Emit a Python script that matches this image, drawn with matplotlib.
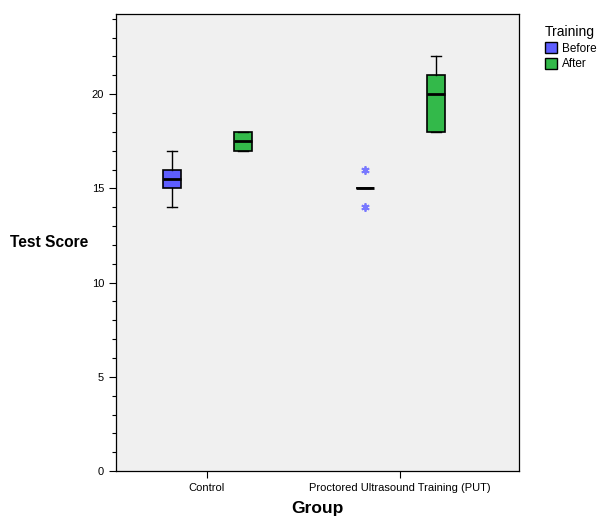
import numpy as np
import matplotlib
matplotlib.use("Agg")
import matplotlib.pyplot as plt
from matplotlib.patches import Patch

plt.rcParams["font.family"] = ["Liberation Sans", "DejaVu Sans"]

# data
groups = ["Control", "Proctored Ultrasound Training (PUT)"]
series = ["Before", "After"]
colors = {"Before": "#5e5eff", "After": "#33b94a"}
# per group, per series: (whislo, q1, med, q3, whishi, fliers)
control_before = (14, 15, 15.5, 16, 17, [])
control_after = (17, 17, 17.5, 18, 18, [])
put_before = (15, 15, 15, 15, 15, [16, 14])
put_after = (18, 18, 20, 21, 22, [])
stats_by_series = {
    "Before": [control_before, put_before],
    "After": [control_after, put_after],
}

fig = plt.figure(figsize=(6, 5.2), dpi=100)
ax = fig.add_axes([0.193, 0.094, 0.672, 0.879])
ax.set_facecolor("#f0f0f0")

offset = {"Before": -0.18, "After": 0.187}
for s in series:
    stats = []
    for v in stats_by_series[s]:
        lo, q1, med, q3, hi, fl = v
        stats.append(dict(whislo=lo, q1=q1, med=med, q3=q3, whishi=hi,
                          fliers=np.array(fl, dtype=float)))
    pos = np.arange(1, len(groups) + 1) + offset[s]
    ax.bxp(stats, positions=pos, widths=0.093, patch_artist=True,
           capwidths=0.05, manage_ticks=False,
           boxprops=dict(facecolor=colors[s], edgecolor="black", lw=1.2),
           medianprops=dict(color="black", lw=2),
           whiskerprops=dict(color="black", lw=1),
           capprops=dict(color="black", lw=1),
           flierprops=dict(marker=(6, 2, 0), markersize=6, markerfacecolor="#7878ff",
                           markeredgecolor="#7878ff", markeredgewidth=1.3,
                           linestyle="none"))

ax.set_xlim(0.528, 2.616)
ax.set_ylim(0, 24.25)
ax.set_xticks([1, 2])
ax.set_xticklabels(groups, fontsize=8)
ax.set_yticks([0, 5, 10, 15, 20])
ax.set_yticks(np.arange(0, 25, 1), minor=True)
ax.tick_params(axis="both", labelsize=8, length=5, width=0.8)
ax.tick_params(axis="y", which="minor", length=3, width=0.8)
for sp in ax.spines.values():
    sp.set_linewidth(0.9)

ax.set_xlabel("Group", fontsize=12.5, fontweight="bold", labelpad=6)
fig.text(0.082, 0.533, "Test Score", fontsize=11.2, fontweight="bold",
         ha="center", va="center")

handles = [Patch(facecolor=colors[s], edgecolor="black", label=s) for s in series]
leg = fig.legend(handles=handles, title="Training", loc="upper left",
                 bbox_to_anchor=(0.89, 0.972), frameon=False, fontsize=8.5,
                 title_fontsize=10, handlelength=1.05, handleheight=1.05,
                 handletextpad=0.45, labelspacing=0.25)
leg._legend_box.align = "left"

fig.savefig("out.png", dpi=100)
